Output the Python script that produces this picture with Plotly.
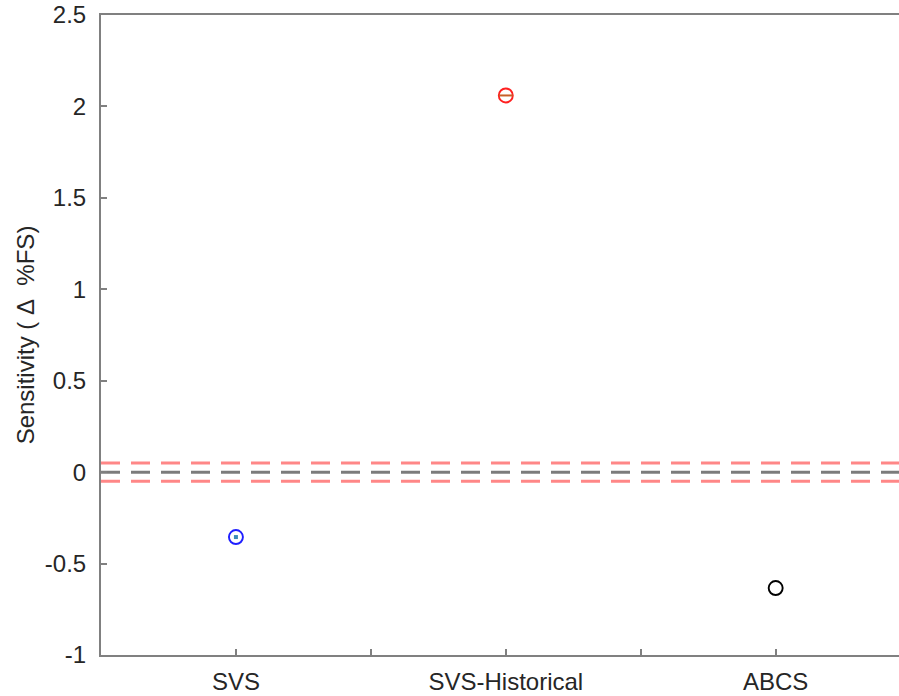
import plotly.graph_objects as go

categories = ["SVS", "SVS-Historical", "ABCS"]
cat_pos = [1, 2, 3]
sensitivity = [-0.355, 2.06, -0.634]
marker_colors = ["#1f1fff", "#ff2020", "#000000"]
inner_colors = ["#3a8ab8", "#c8602a", None]
inner_symbols = ["square", "line-ew", None]
limit_lines = [0.05, 0.0, -0.05]
limit_colors = ["rgba(255,70,70,0.65)", "rgba(80,80,80,0.75)", "rgba(255,70,70,0.65)"]
y_ticks = [-1, -0.5, 0, 0.5, 1, 1.5, 2, 2.5]
y_ticklabels = ["-1", "-0.5", "0", "0.5", "1", "1.5", "2", "2.5"]
x_minor = [1.5, 2.5]

fig = go.Figure()

x_lo, x_hi = 0.5, 3.457

for yv, c in zip(limit_lines, limit_colors):
    fig.add_trace(go.Scatter(x=[x_lo, x_hi], y=[yv, yv], mode="lines",
                             line=dict(color=c, width=3, dash="19px,11px"),
                             hoverinfo="skip", showlegend=False))

for xp, yv, col, ic, isym in zip(cat_pos, sensitivity, marker_colors, inner_colors, inner_symbols):
    fig.add_trace(go.Scatter(x=[xp], y=[yv], mode="markers",
                             marker=dict(symbol="circle-open", size=14, color=col,
                                         line=dict(width=1.9, color=col)),
                             showlegend=False))
    if ic is not None:
        if isym == "line-ew":
            fig.add_trace(go.Scatter(x=[xp], y=[yv], mode="markers",
                                     marker=dict(symbol="line-ew", size=10, color=ic,
                                                 line=dict(width=2, color=ic)),
                                     showlegend=False))
        else:
            fig.add_trace(go.Scatter(x=[xp], y=[yv], mode="markers",
                                     marker=dict(symbol=isym, size=4, color=ic),
                                     showlegend=False))

fig.update_layout(
    width=899, height=696,
    margin=dict(l=101, r=0, t=15, b=41, autoexpand=False),
    plot_bgcolor="white", paper_bgcolor="white",
    font=dict(family="Liberation Sans, Arial, sans-serif", size=24, color="#262626"),
    showlegend=False,
)

fig.update_xaxes(
    range=[x_lo, x_hi],
    tickmode="array",
    tickvals=cat_pos + x_minor,
    ticktext=categories + ["", ""],
    ticks="inside", ticklen=6, tickwidth=1.5, tickcolor="#808080",
    ticklabelstandoff=4, ticklabeloverflow="allow",
    showline=True, linecolor="#808080", linewidth=2, mirror=True,
    showgrid=False, zeroline=False, automargin=False,
)
fig.update_yaxes(
    range=[-1, 2.5],
    tickmode="array", tickvals=y_ticks, ticktext=y_ticklabels,
    ticks="inside", ticklen=6, tickwidth=1.5, tickcolor="#808080",
    ticklabelstandoff=8, ticklabeloverflow="allow",
    showline=True, linecolor="#808080", linewidth=2, mirror=False,
    showgrid=False, zeroline=False, automargin=False,
    title=dict(text="Sensitivity (\u00a0Δ\u00a0\u00a0%FS)", font=dict(size=24), standoff=3),
)

fig.write_html(
    "out.html",
    config={"displayModeBar": False},
    post_script="document.body.style.margin='0';document.body.style.overflow='hidden';",
)
